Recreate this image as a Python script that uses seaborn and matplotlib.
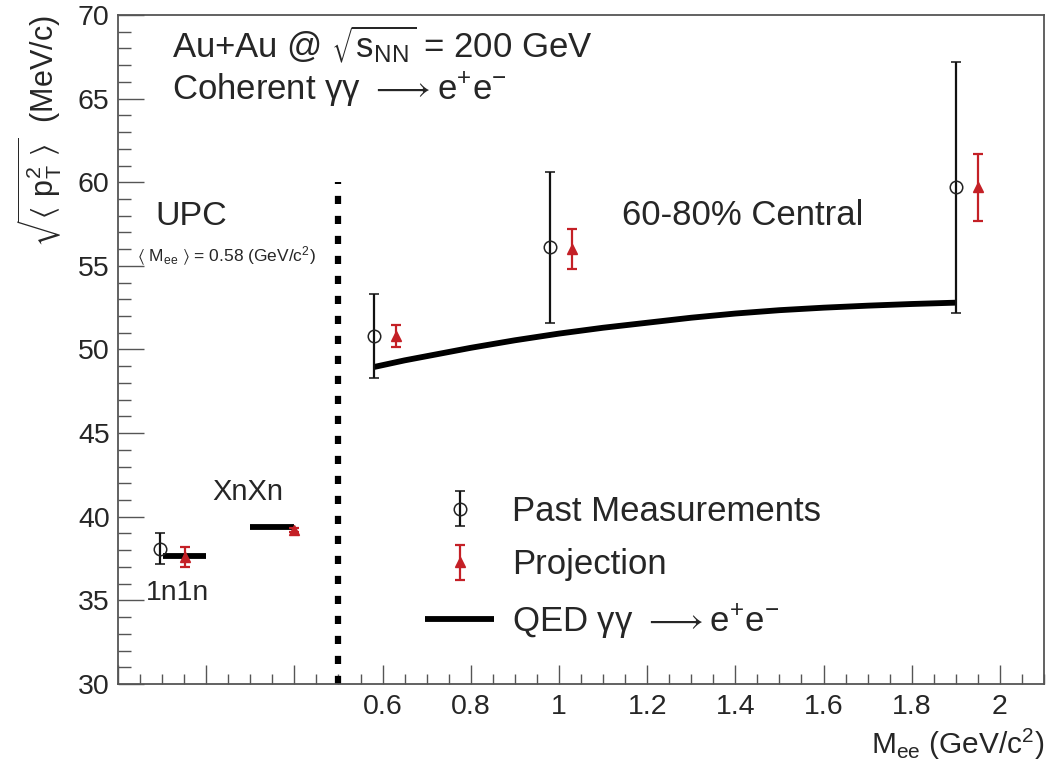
import numpy as np
import pandas as pd
import matplotlib
matplotlib.use("Agg")
import matplotlib.pyplot as plt
import seaborn as sns
from matplotlib.ticker import MultipleLocator, FuncFormatter

# ---------------- data ----------------
past_mass = [0.095, 0.58, 0.98, 1.90]
past_pt = [38.1, 50.8, 56.1, 59.7]
past_err = [0.9, 2.5, 4.5, 7.5]

proj_mass = [0.152, 0.40, 0.63, 1.03, 1.95]
proj_pt = [37.6, 39.2, 50.8, 56.0, 59.7]
proj_err = [0.6, 0.1, 0.65, 1.2, 2.0]

qed_mass = [0.58, 0.65, 0.72, 0.80, 0.90, 1.00, 1.10, 1.20, 1.30,
            1.40, 1.50, 1.60, 1.70, 1.80, 1.90]
qed_pt = [48.95, 49.35, 49.7, 50.1, 50.55, 50.95, 51.3, 51.6, 51.9,
          52.15, 52.35, 52.5, 52.62, 52.72, 52.8]

upc_qed_lo = [0.102, 0.30]
upc_qed_hi = [0.200, 0.40]
upc_qed_pt = [37.65, 39.4]
upc_labels = ["1n1n", "XnXn"]

separator_mass = 0.5
separator_top = 60

# ---------------- style ----------------
sns.set_style("white")
plt.rcParams["font.family"] = ["Liberation Sans", "DejaVu Sans"]
plt.rcParams["mathtext.fontset"] = "dejavusans"
plt.rcParams["mathtext.default"] = "regular"

RED = "#c42026"
FRAME = "#555555"

fig = plt.figure(figsize=(10.48, 7.65), dpi=100)
ax = fig.add_axes([0.1126, 0.1059, 0.9962 - 0.1126, 0.9804 - 0.1059])

qed_df = pd.DataFrame({"mass": qed_mass, "pt": qed_pt})
sns.lineplot(data=qed_df, x="mass", y="pt", ax=ax, color="black", lw=4.2,
             legend=False, solid_capstyle="butt")
qed_handle = ax.lines[-1]

ax.hlines(upc_qed_pt, upc_qed_lo, upc_qed_hi, color="black", lw=4.2)

ax.vlines(separator_mass, 30, separator_top, color="black", lw=4.5,
          linestyles=(0, (1.3, 1.9)))

past = ax.errorbar(past_mass, past_pt, yerr=past_err, fmt="o", ms=9,
                   mfc="none", mec="#222222", mew=1.1, ecolor="#111111",
                   elinewidth=1.6, capsize=3.5, capthick=1.6)
proj = ax.errorbar(proj_mass, proj_pt, yerr=proj_err, fmt="^", ms=7,
                   color=RED, mfc=RED, mec=RED, ecolor=RED,
                   elinewidth=1.6, capsize=3.5, capthick=1.6)

ax.set_xlim(0, 2.1)
ax.set_ylim(30, 70)

ax.xaxis.set_major_locator(MultipleLocator(0.2))
ax.xaxis.set_minor_locator(MultipleLocator(0.05))
ax.yaxis.set_major_locator(MultipleLocator(5))
ax.yaxis.set_minor_locator(MultipleLocator(1))
ax.xaxis.set_major_formatter(FuncFormatter(lambda v, p: "" if v < 0.55 else f"{v:g}"))
ax.yaxis.set_major_formatter(FuncFormatter(lambda v, p: f"{v:g}"))

ax.tick_params(axis="x", which="major", direction="in", length=14, width=1,
               color=FRAME, labelsize=20.5, pad=7, bottom=True, top=False)
ax.tick_params(axis="x", which="minor", direction="in", length=7, width=1,
               color=FRAME, bottom=True, top=False)
ax.tick_params(axis="y", which="major", direction="in", length=19, width=1,
               color=FRAME, labelsize=20.5, pad=6, left=True, right=False)
ax.tick_params(axis="y", which="minor", direction="in", length=9.5, width=1,
               color=FRAME, left=True, right=False)

for s in ax.spines.values():
    s.set_color(FRAME)
    s.set_linewidth(1.3)

ax.set_xlabel(r"M$_{ee}$ (GeV/c$^{2}$)", fontsize=21.5, loc="right")
ax.xaxis.set_label_coords(1.0, -0.064)
ax.set_ylabel(r"$\sqrt{\langle\ p_{T}^{2}\ \rangle}$  (MeV/c)", fontsize=22, loc="top")
ax.yaxis.set_label_coords(-0.058, 1.0)

ARROW = r"$\longrightarrow$"
ax.text(0.122, 67.45, r"Au+Au @ $\sqrt{s_{NN}}$ = 200 GeV", fontsize=25, va="baseline")
ax.text(0.122, 64.94, "Coherent γγ " + ARROW + r"e$^{+}$e$^{-}$", fontsize=25, va="baseline")
ax.text(0.084, 57.45, "UPC", fontsize=24.5, va="baseline")
ax.text(0.043, 55.24, r"$\langle$ M$_{ee}$ $\rangle$ = 0.58 (GeV/c$^{2}$)", fontsize=12.5, va="baseline")
ax.text(1.143, 57.45, "60-80% Central", fontsize=25, va="baseline")
ax.text(0.134, 35.0, upc_labels[0], fontsize=20.5, va="baseline", ha="center")
ax.text(0.295, 41.0, upc_labels[1], fontsize=21, va="baseline", ha="center")

ax.legend([past, proj, qed_handle],
          ["Past Measurements", "Projection", "QED γγ " + ARROW + r"e$^{+}$e$^{-}$"],
          loc="upper left", bbox_to_anchor=(0.3315, 0.283), frameon=False,
          fontsize=25, handlelength=2.0, handletextpad=0.5, labelspacing=0.6,
          borderpad=0, borderaxespad=0)

fig.savefig("out.png", dpi=100)
